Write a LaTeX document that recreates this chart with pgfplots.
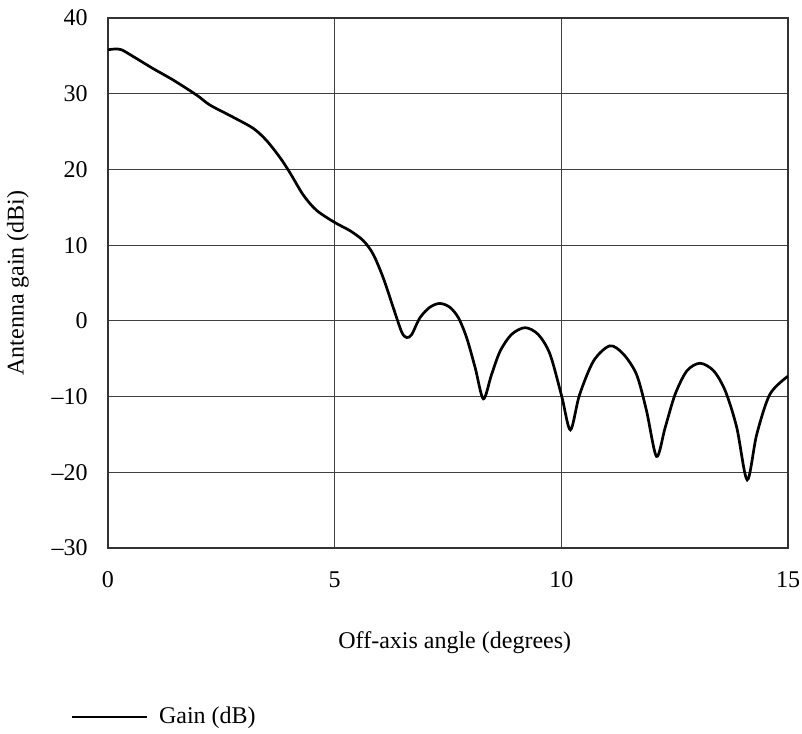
\documentclass[border=0pt]{standalone}
\usepackage{fontspec}
\setmainfont{Liberation Serif}
\usepackage{pgfplots}
\pgfplotsset{compat=1.18}
\begin{document}
\fontsize{12}{14}\selectfont
\begin{tikzpicture}
\begin{axis}[
  scale only axis,
  width=340pt, height=265pt,
  xmin=0, xmax=15, ymin=-30, ymax=40,
  xtick={0,5,10,15}, xticklabels={0,5,10,15},
  ytick={-30,-20,-10,0,10,20,30,40},
  yticklabels={{--30},{--20},{--10},0,10,20,30,40},
  major tick length=0pt,
  grid=major,
  major grid style={black!75, line width=0.5pt},
  axis line style={black!80, line width=0.6pt},
  xticklabel style={yshift=-7.5pt},
  yticklabel style={xshift=-6pt},
  xlabel={Off-axis angle (degrees)},
  ylabel={Antenna gain (dBi)},
  xlabel style={at={(axis description cs:0.51,-0.179)}, anchor=center},
  ylabel style={at={(axis description cs:-0.1324,0.5)}, anchor=center},
  legend style={at={(axis description cs:-0.056,-0.319)}, anchor=west, draw=none, fill=none, inner sep=0pt},
  legend image code/.code={\draw[#1] (0pt,0pt) -- (37.5pt,0pt); \path (41pt,0pt);},
  legend cell align=left,
]
\addplot[black, line width=1.35pt, smooth, tension=0.5] coordinates {
(0,35.8) (0.15,35.9) (0.3,35.8) (0.56,34.9) (1.0,33.3) (1.44,31.8) (1.96,29.8)
(2.25,28.5) (2.76,26.9) (3.21,25.4) (3.5,23.8) (3.79,21.6) (4.01,19.6) (4.31,16.6)
(4.6,14.6) (5.0,13.0) (5.34,11.9) (5.63,10.6) (5.85,8.8) (6.07,5.7) (6.29,1.8)
(6.48,-1.5) (6.59,-2.2) (6.7,-1.8) (6.88,0.4) (7.1,1.8) (7.32,2.3) (7.54,1.8)
(7.73,0.4) (7.91,-2.2) (8.1,-6.2) (8.28,-10.3) (8.46,-7.1) (8.65,-4.0) (8.9,-1.8)
(9.2,-0.9) (9.49,-1.8) (9.75,-4.4) (10.01,-10.0) (10.2,-14.4) (10.4,-9.8) (10.71,-5.3)
(11.07,-3.3) (11.37,-4.4) (11.66,-7.1) (11.88,-11.9) (12.1,-17.9) (12.29,-14.1)
(12.51,-9.7) (12.77,-6.6) (13.06,-5.6) (13.36,-6.6) (13.62,-9.3) (13.87,-14.1)
(14.1,-21.0) (14.31,-15.0) (14.6,-9.7) (15.0,-7.3)
};
\addlegendentry{Gain (dB)}
\end{axis}
\pgfresetboundingbox
\path[use as bounding box] ([xshift=-54pt,yshift=-92.5pt]current axis.south west) rectangle ([xshift=7pt,yshift=9pt]current axis.north east);
\end{tikzpicture}
\end{document}
